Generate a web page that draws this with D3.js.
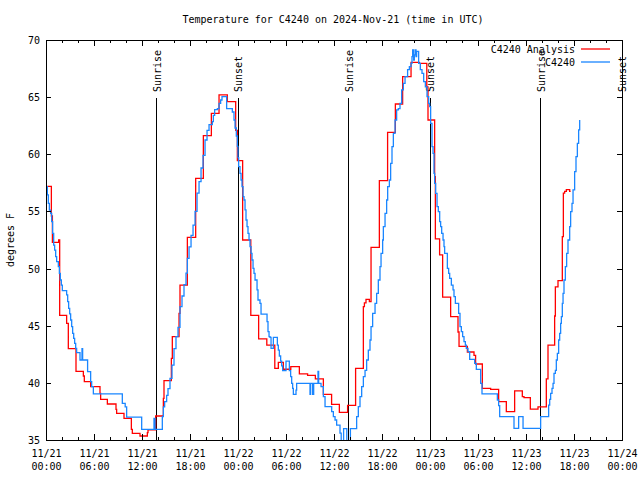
<!DOCTYPE html>
<html><head><meta charset="utf-8">
<script src="https://cdn.jsdelivr.net/npm/d3@7"></script>
<style>
body{margin:0;background:#fff}
svg text{font-family:"DejaVu Sans Mono",monospace;font-size:10px;fill:#000}
</style>
</head><body>
<svg id="chart" width="640" height="480"></svg>
<script>
// ---- data (hours since 2024-11-21 00:00 UTC) ----
const analysisHours=[0.15,0.67,0.8,1.58,1.71,2.58,2.79,3.75,4.67,4.79,5.58,6.75,6.83,7.67,8.75,8.83,9.75,10.67,10.79,11.75,12.67,12.75,13.71,14.67,14.75,15.67,15.79,16.63,16.75,17.67,18.71,19.67,20.67,21.63,22.67,23.71,23.92,24.58,25.6,26.58,27.6,28.6,29.04,29.67,30.6,31.67,32.7,33.67,34.67,35.7,36.67,37.7,38.7,39.67,39.8,40.0,40.42,40.63,41.67,42.7,43.67,44.58,45.63,46.67,47.6,47.75,48.58,48.67,49.2,49.58,50.58,51.5,51.63,52.67,53.5,53.7,54.54,55.58,56.58,57.54,58.58,59.54,59.75,60.54,61.5,62.54,62.75,63.58,63.67,64.0,64.54,64.67,64.83,65.04,65.46,65.58];
const analysisTemps=[57.2,54.6,52.3,52.5,45.9,45.2,43.0,41.0,40.6,40.1,39.67,39.08,38.56,38.15,37.68,37.33,36.9,35.93,35.58,35.35,35.64,35.88,37.1,38.65,40.2,42.15,44.04,46.08,48.56,52.73,57.9,61.63,63.58,65.19,64.6,62.1,59.44,52.5,45.9,43.84,43.3,41.27,41.8,41.19,41.42,40.78,40.66,40.34,39.0,38.12,37.42,38.03,41.27,46.67,47.0,47.3,47.1,51.86,57.69,61.92,64.4,66.79,68.05,67.96,65.9,63.0,58.04,52.6,51.2,47.5,45.8,44.45,43.2,42.7,42.4,41.65,39.52,39.43,38.35,37.48,39.29,38.8,38.7,37.71,37.9,40.34,43.3,45.85,48.4,48.94,52.8,56.6,56.75,56.9,56.75,56.75];

const obsHours=[0.08,0.17,0.29,0.42,0.58,0.71,0.83,0.96,1.08,1.21,1.33,1.54,1.67,1.79,1.92,2.04,2.58,2.71,2.83,2.96,3.08,3.21,3.33,3.46,3.58,3.71,3.83,4.25,4.5,4.58,5.2,5.58,5.71,5.92,9.54,9.9,10.08,11.96,13.5,13.63,14.54,14.67,14.83,15.08,15.25,15.5,15.75,16.0,16.25,16.5,16.75,17.0,17.25,17.5,17.67,17.88,18.13,18.38,18.63,18.88,19.13,19.38,19.63,19.88,20.13,20.38,20.79,20.92,21.08,21.42,21.63,21.83,22.0,22.58,23.29,23.5,23.63,23.79,23.92,24.0,24.08,24.25,24.38,24.5,24.63,24.75,24.88,25.0,25.13,25.25,25.38,25.5,25.63,25.75,25.88,26.0,26.13,26.38,26.5,26.75,26.88,27.63,27.75,27.88,28.0,28.13,28.42,28.92,29.04,29.17,29.33,29.46,29.58,30.0,30.42,30.58,30.71,30.83,30.92,31.25,31.33,33.0,33.08,33.33,33.46,34.0,34.08,34.38,34.67,34.88,35.71,35.92,36.13,36.33,36.75,36.9,37.2,37.6,38.05,38.83,39.04,39.25,39.46,39.67,39.88,40.08,40.29,40.5,40.63,40.83,41.13,41.33,41.54,41.75,41.88,42.08,42.17,42.38,42.58,42.71,42.92,43.08,43.25,43.42,43.63,43.83,44.04,44.25,44.46,44.67,44.88,45.2,45.42,45.63,45.75,45.83,45.96,46.04,46.17,46.25,46.33,46.58,46.79,47.0,47.21,47.42,47.63,47.83,47.96,48.08,48.25,48.38,48.5,48.58,48.71,48.88,49.04,49.21,49.33,49.46,49.63,49.75,49.83,50.17,50.33,50.46,50.67,50.88,51.0,51.17,51.58,51.75,51.92,52.08,52.25,52.42,52.54,52.75,52.96,53.58,53.79,54.33,54.5,56.42,56.58,56.71,58.5,59.08,59.63,61.83,62.83,62.96,63.08,63.25,63.38,63.5,63.67,63.79,63.92,64.08,64.21,64.33,64.42,64.54,64.63,64.75,64.92,65.08,65.25,65.46,65.58,65.75,65.88,66.08,66.25,66.42,66.58,66.71];
const obsTemps=[57.17,56.44,55.7,55.12,54.83,54.1,53.08,52.06,51.62,51.04,50.6,50.17,49.58,49.0,48.56,48.07,47.69,47.1,46.52,46.03,45.5,44.92,44.33,43.9,43.46,43.02,42.64,42.0,43.0,42.0,40.98,40.1,39.67,39.03,38.2,37.9,37.0,35.93,36.9,35.93,37.04,37.9,38.35,38.9,39.5,40.4,41.56,43.0,44.04,44.85,46.67,47.6,48.6,49.6,50.9,51.9,52.9,53.8,55.0,56.6,57.6,58.8,59.9,61.25,62.1,62.6,62.85,63.4,63.9,64.0,64.45,64.75,65.04,64.0,63.7,63.0,62.3,61.6,60.7,59.7,58.92,58.33,57.75,57.17,56.3,56.0,55.13,54.25,53.67,53.08,52.5,51.92,51.33,50.75,50.02,49.58,49.0,48.13,47.25,46.96,46.02,45.35,44.48,44.04,43.98,43.02,43.98,43.3,42.87,42.35,41.9,41.48,41.07,41.9,41.07,40.54,39.96,39.52,39.0,39.37,39.96,39.0,39.96,39.0,39.96,41.0,39.96,39.67,38.8,37.92,37.48,37.04,36.75,36.31,35.6,34.8,36.0,34.8,36.0,37.04,37.92,38.8,39.67,40.54,41.1,42.0,42.87,43.75,44.92,46.08,46.96,47.83,49.0,50.17,51.33,52.5,53.67,54.83,56.0,57.17,57.75,59.2,60.67,61.83,63.0,63.88,64.0,64.46,65.63,66.2,66.8,67.4,67.67,67.96,68.54,69.13,68.25,68.7,69.13,68.54,69.0,67.96,67.4,67.08,66.35,65.9,65.04,64.46,64.17,62.7,60.67,60.08,58.33,57.46,56.58,55.42,54.98,54.1,53.67,53.08,52.5,51.92,51.33,50.02,49.58,49.15,48.56,48.13,47.54,46.96,46.08,44.92,44.48,44.04,43.6,43.3,43.02,42.73,42.06,41.7,41.18,39.96,39.03,38.5,38.0,37.04,36.02,37.04,36.02,37.04,38.06,38.56,39.08,39.52,39.96,40.83,41.1,42.0,42.58,43.75,44.33,45.21,45.79,46.96,47.83,49.0,50.17,51.33,52.5,53.67,54.98,55.7,56.88,58.48,59.79,60.96,62.13,63.0];

const xMajorHours=[0,6,12,18,24,30,36,42,48,54,60,66,72];
const xTickDates=["11/21","11/21","11/21","11/21","11/22","11/22","11/22","11/22","11/23","11/23","11/23","11/23","11/24"];
const xTickTimes=["00:00","06:00","12:00","18:00","00:00","06:00","12:00","18:00","00:00","06:00","12:00","18:00","00:00"];
const xMinorHours=[2,4,8,10,14,16,20,22,26,28,32,34,38,40,44,46,50,52,56,58,62,64,68,70];
const yTickValues=[35,40,45,50,55,60,65,70];
const sunHours=[13.83,24,37.83,48,61.83,72];
const sunLabels=["Sunrise","Sunset","Sunrise","Sunset","Sunrise","Sunset"];
const seriesNames=["C4240 Analysis","C4240"];
const seriesColors=["#ff0000","#1a86ff"];

// ---- layout ----
const L=46,R=622,T=40,B=440;
const svg=d3.select("#chart");
const x=d3.scaleLinear().domain([0,72]).range([L,R]);
const y=d3.scaleLinear().domain([35,70]).range([B,T]);

svg.append("defs").append("clipPath").attr("id","clip")
  .append("rect").attr("x",L).attr("y",T).attr("width",R-L).attr("height",B-T);

// title
svg.append("text").attr("x",333).attr("y",23).attr("text-anchor","middle")
  .text("Temperature for C4240 on 2024-Nov-21 (time in UTC)");

// y label
svg.append("text").attr("transform","translate(14,240) rotate(-90)")
  .attr("text-anchor","middle").text("degrees F");

// sun lines
const sunG=svg.append("g");
sunHours.forEach((h,i)=>{
  sunG.append("line").attr("x1",x(h)).attr("x2",x(h)).attr("y1",98).attr("y2",B)
    .attr("stroke","#000").attr("stroke-width",1).attr("shape-rendering","crispEdges");
  sunG.append("text").attr("transform",`translate(${x(h)+4},${92}) rotate(-90)`)
    .attr("text-anchor","start").text(sunLabels[i]);
});

// series
const line=d3.line().x(d=>x(d[0])).y(d=>y(d[1])).curve(d3.curveStepAfter);
const redData=analysisHours.map((h,i)=>[h,analysisTemps[i]]);
const blueData=obsHours.map((h,i)=>[h,obsTemps[i]]);
const plotG=svg.append("g").attr("clip-path","url(#clip)");
plotG.append("path").datum(redData).attr("d",line).attr("fill","none")
  .attr("stroke",seriesColors[0]).attr("stroke-width",1.3);
plotG.append("path").datum(blueData).attr("d",line).attr("fill","none")
  .attr("stroke",seriesColors[1]).attr("stroke-width",1.3);

// axes
const noLab=()=>"";
svg.append("g").attr("transform",`translate(0,${B})`)
  .call(d3.axisBottom(x).tickValues(xMinorHours).tickSize(-3).tickFormat(noLab))
  .call(g=>g.select(".domain").remove());
svg.append("g").attr("transform",`translate(0,${T})`)
  .call(d3.axisTop(x).tickValues(xMinorHours).tickSize(-3).tickFormat(noLab))
  .call(g=>g.select(".domain").remove());
svg.append("g").attr("transform",`translate(0,${T})`)
  .call(d3.axisTop(x).tickValues(xMajorHours).tickSize(-6).tickFormat(noLab))
  .call(g=>g.select(".domain").remove());
const bx=svg.append("g").attr("transform",`translate(0,${B})`)
  .call(d3.axisBottom(x).tickValues(xMajorHours).tickSize(-6).tickFormat(noLab))
  .call(g=>g.select(".domain").remove());
bx.selectAll(".tick").each(function(d,i){
  const t=d3.select(this).select("text").attr("y",null).attr("dy",null);
  t.append("tspan").attr("x",0).attr("y",17).text(xTickDates[i]);
  t.append("tspan").attr("x",0).attr("y",30).text(xTickTimes[i]);
});
svg.append("g").attr("transform",`translate(${L},0)`)
  .call(d3.axisLeft(y).tickValues(yTickValues).tickSize(-5).tickPadding(6).tickFormat(d3.format("d")))
  .call(g=>g.select(".domain").remove())
  .call(g=>g.selectAll("text").attr("dy","0.35em"));
svg.append("g").attr("transform",`translate(${R},0)`)
  .call(d3.axisRight(y).tickValues(yTickValues).tickSize(-5).tickFormat(noLab))
  .call(g=>g.select(".domain").remove());
svg.selectAll(".tick line").attr("stroke","#000").attr("shape-rendering","crispEdges");
svg.selectAll(".tick text").style("font-family","'DejaVu Sans Mono',monospace").style("font-size","10px").attr("fill","#000");

// frame
svg.append("rect").attr("x",L).attr("y",T).attr("width",R-L).attr("height",B-T)
  .attr("fill","none").attr("stroke","#000").attr("stroke-width",1).attr("shape-rendering","crispEdges");

// legend
const lg=svg.append("g");
seriesNames.forEach((n,i)=>{
  const ly=49+i*13;
  lg.append("text").attr("x",575).attr("y",ly+4).attr("text-anchor","end").text(n);
  lg.append("line").attr("x1",581).attr("x2",610).attr("y1",ly).attr("y2",ly)
    .attr("stroke",seriesColors[i]).attr("stroke-width",1.3);
});
</script>
</body></html>
